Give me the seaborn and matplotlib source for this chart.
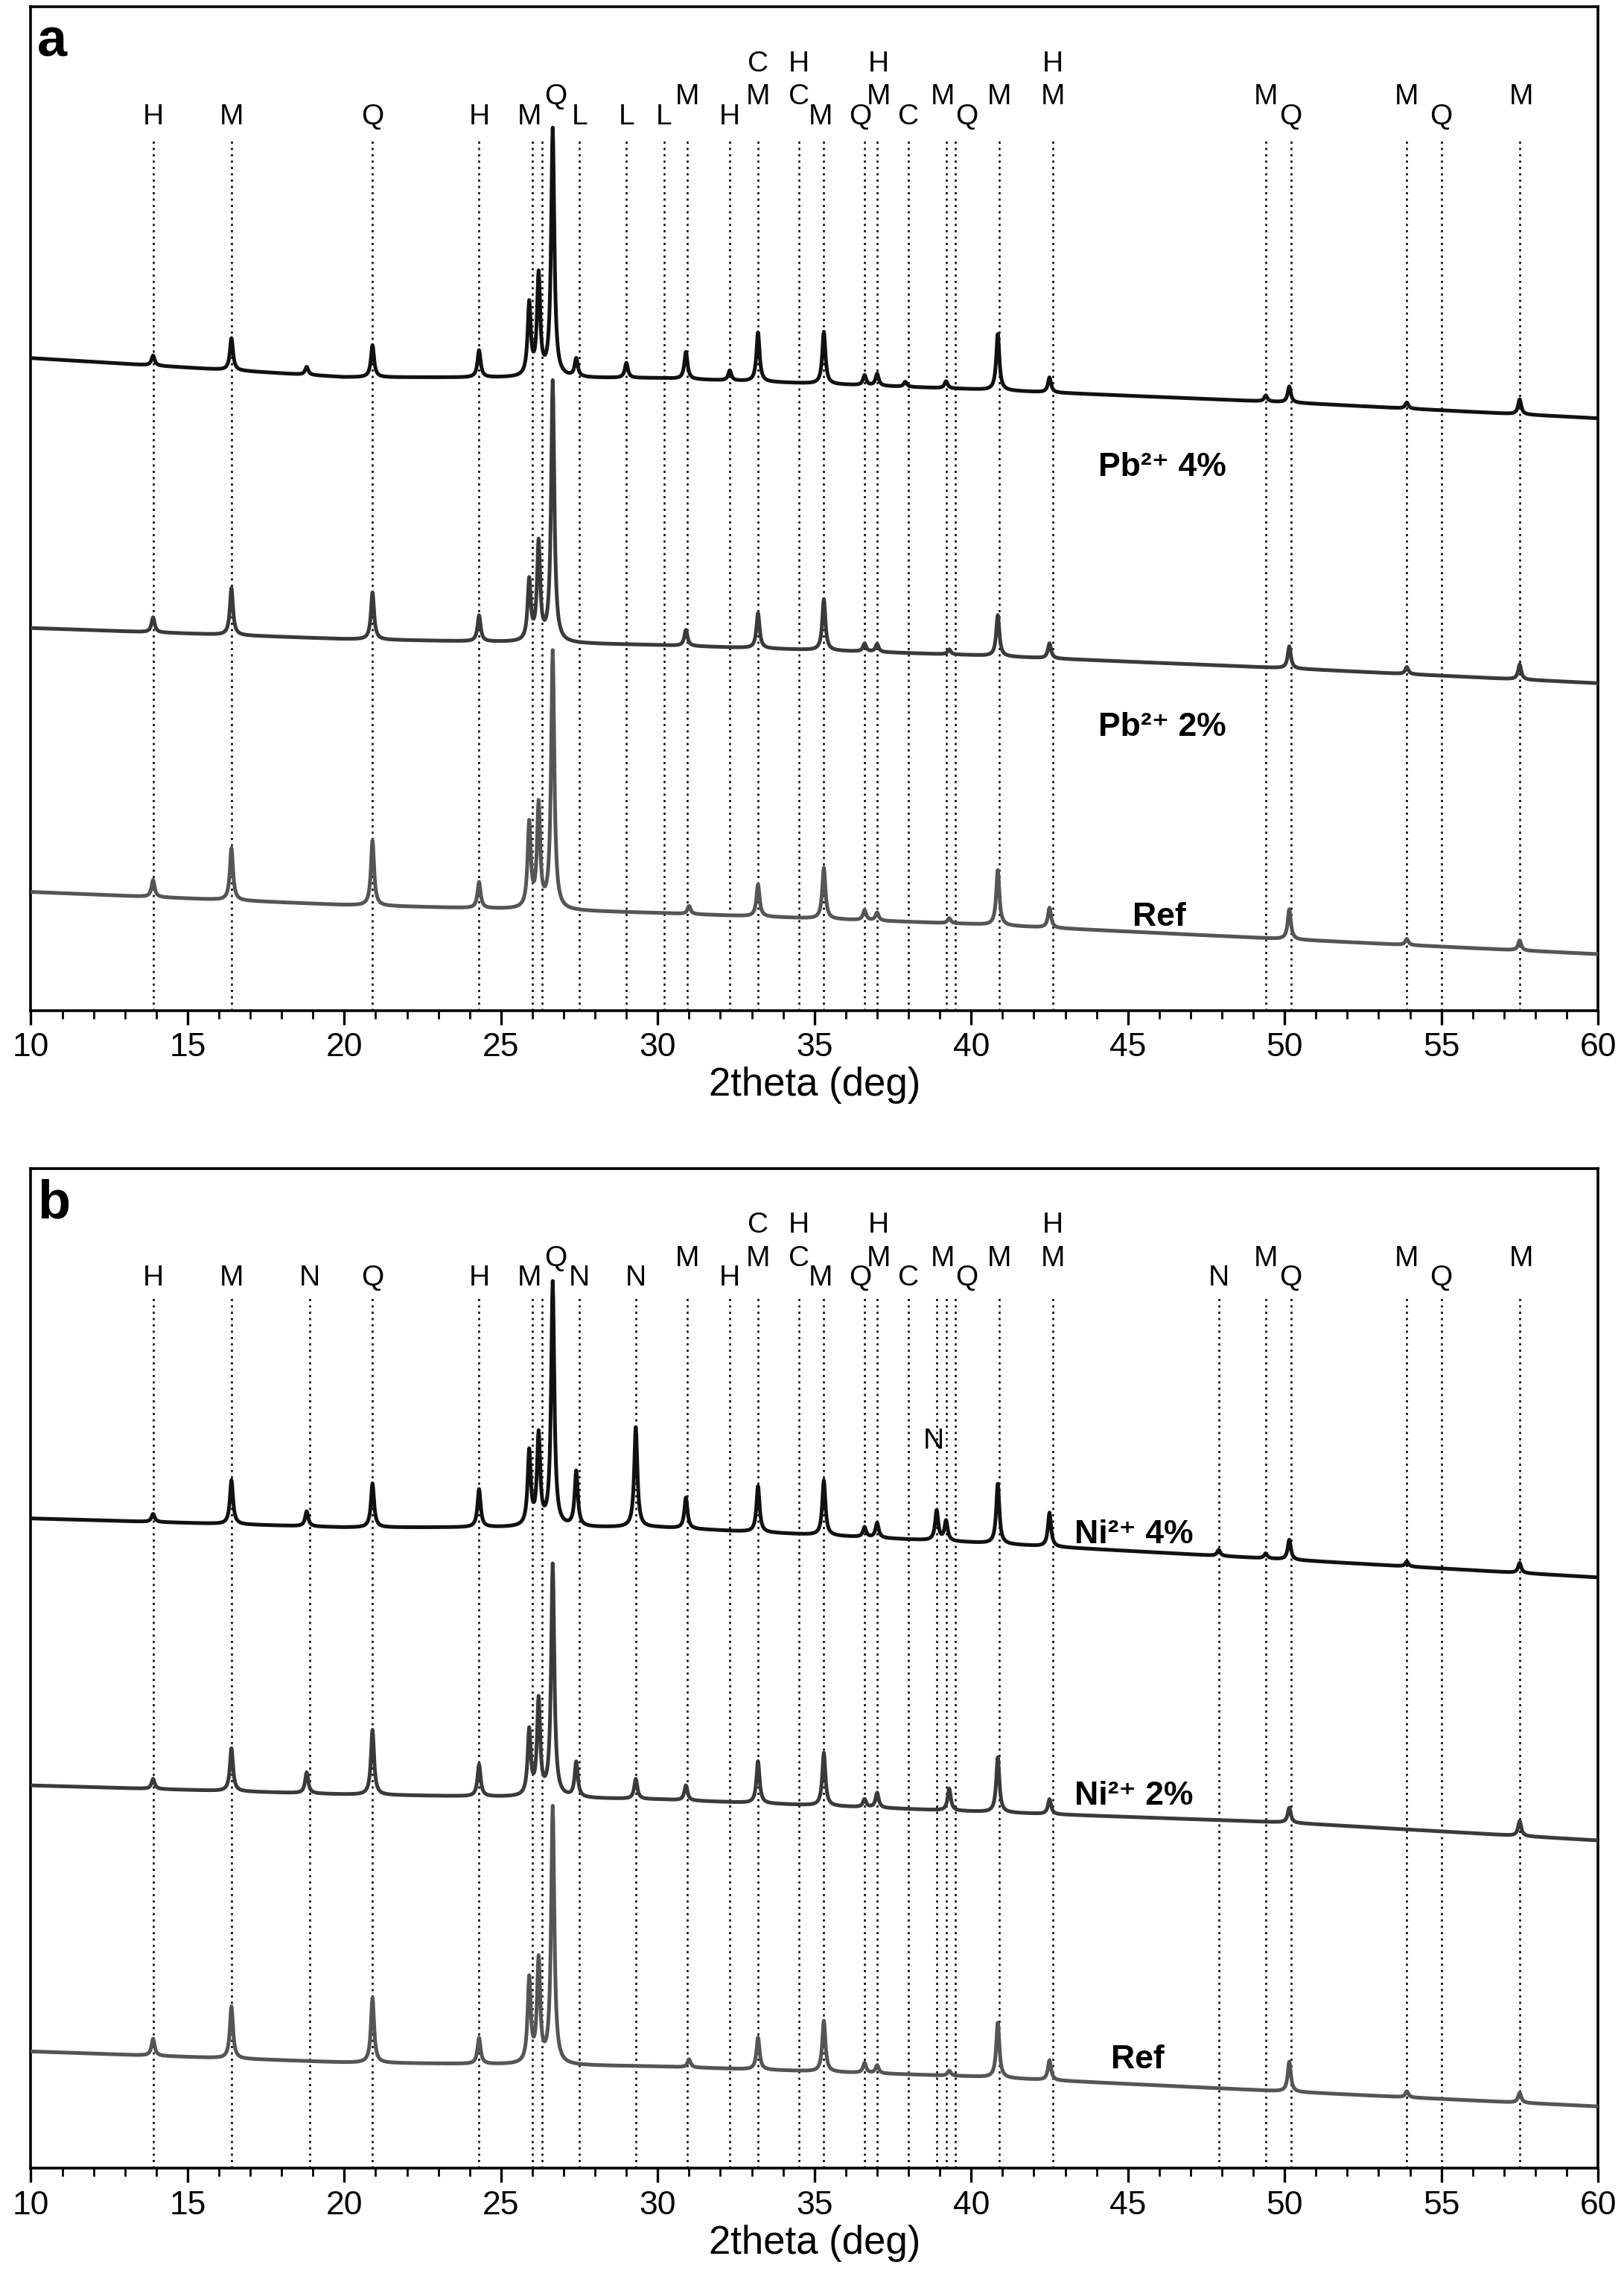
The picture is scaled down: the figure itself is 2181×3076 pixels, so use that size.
import numpy as np
import pandas as pd
import matplotlib
matplotlib.use("Agg")
import matplotlib.pyplot as plt
from matplotlib.ticker import MultipleLocator
import seaborn as sns

sns.set_style("white")
plt.rcParams['font.family'] = ['Liberation Sans', 'DejaVu Sans']
plt.rcParams['text.color'] = 'black'
plt.rcParams['xtick.color'] = 'black'
plt.rcParams['axes.labelcolor'] = 'black'

# ---------------- data (y in arbitrary units 0..100) -------------
base_x = [10, 20, 30, 40, 50, 60]
# panel a
pb4_base = [65.0, 63.1, 63.0, 61.9, 60.6, 59.0]
pb4_pos = [13.9, 16.4, 18.8, 20.9, 24.3, 25.9, 26.2, 26.65, 27.4, 29.0, 30.9, 32.3, 33.2, 35.3, 36.6, 37.0, 37.9, 39.2, 40.85, 42.5, 49.4, 50.15, 53.9, 57.5]
pb4_h = [1.0, 3.2, 0.8, 3.2, 2.7, 7.2, 10.0, 24.7, 1.8, 1.5, 2.7, 1.0, 4.9, 5.2, 1.0, 1.2, 0.5, 0.7, 5.6, 1.5, 0.6, 1.6, 0.6, 1.5]
pb2_base = [38.1, 37.0, 36.4, 35.4, 34.1, 32.6]
pb2_pos = [13.9, 16.4, 20.9, 24.3, 25.9, 26.2, 26.65, 30.9, 33.2, 35.3, 36.6, 37.0, 39.3, 40.85, 42.5, 50.15, 53.9, 57.5]
pb2_h = [1.5, 4.7, 4.7, 2.6, 6.0, 9.7, 26.0, 1.6, 3.5, 5.1, 0.8, 0.8, 0.5, 4.1, 1.5, 2.2, 0.7, 1.5]
refa_base = [11.8, 10.5, 9.7, 8.6, 7.1, 5.6]
ref_pos = [13.9, 16.4, 20.9, 24.3, 25.9, 26.2, 26.65, 31.0, 33.2, 35.3, 36.6, 37.0, 39.3, 40.85, 42.5, 50.15, 53.9, 57.5]
ref_h = [1.7, 5.2, 6.5, 2.6, 8.4, 10.2, 25.7, 0.8, 3.2, 5.1, 1.0, 0.8, 0.5, 5.5, 2.0, 3.0, 0.6, 1.0]
# panel b
ni4_base = [65.0, 64.1, 64.1, 62.6, 60.9, 59.1]
ni4_pos = [13.9, 16.4, 18.8, 20.9, 24.3, 25.9, 26.2, 26.65, 27.4, 29.3, 30.9, 33.2, 35.3, 36.6, 37.0, 38.9, 39.2, 40.85, 42.5, 47.9, 49.4, 50.15, 53.9, 57.5]
ni4_h = [0.8, 4.4, 1.5, 4.4, 3.8, 7.4, 9.0, 24.4, 5.5, 10.0, 3.1, 4.6, 5.5, 1.0, 1.5, 3.0, 2.0, 6.0, 3.4, 0.6, 0.5, 2.0, 0.5, 1.0]
ni2_base = [38.3, 37.4, 36.9, 35.7, 34.6, 32.8]
ni2_pos = [13.9, 16.4, 18.8, 20.9, 24.3, 25.9, 26.2, 26.65, 27.4, 29.3, 30.9, 33.2, 35.3, 36.6, 37.0, 39.3, 40.85, 42.5, 50.15, 57.5]
ni2_h = [1.0, 4.3, 2.1, 6.5, 3.2, 6.5, 9.5, 23.2, 3.5, 2.0, 1.5, 4.2, 5.3, 0.8, 1.5, 2.2, 5.5, 1.5, 1.5, 1.5]
refb_base = [11.7, 10.6, 10.2, 9.2, 7.7, 6.2]

# phase reference lines
lines_a = [13.9, 16.4, 20.9, 24.3, 26.0, 26.3, 27.5, 29.0, 30.2, 30.95, 32.3, 33.2, 34.5, 35.3, 36.6, 37.0, 38.0, 39.2, 39.5, 40.9, 42.6, 49.4, 50.2, 53.9, 55.0, 57.5]
lines_b = [13.9, 16.4, 18.9, 20.9, 24.3, 26.0, 26.3, 27.5, 29.3, 30.95, 32.3, 33.2, 34.5, 35.3, 36.6, 37.0, 38.0, 38.9, 39.2, 39.5, 40.9, 42.6, 47.9, 49.4, 50.2, 53.9, 55.0, 57.5]
row1_a = [(13.9, "H"), (16.4, "M"), (20.9, "Q"), (24.3, "H"), (25.9, "M"), (27.5, "L"), (29.0, "L"), (30.2, "L"), (32.3, "H"), (35.2, "M"), (36.45, "Q"), (38.0, "C"), (39.85, "Q"), (50.2, "Q"), (55.0, "Q")]
row1_b = [(13.9, "H"), (16.4, "M"), (18.9, "N"), (20.9, "Q"), (24.3, "H"), (25.9, "M"), (27.5, "N"), (29.3, "N"), (32.3, "H"), (35.2, "M"), (36.45, "Q"), (38.0, "C"), (39.85, "Q"), (47.9, "N"), (50.2, "Q"), (55.0, "Q")]
row2 = [(26.75, "Q"), (30.95, "M"), (33.2, "M"), (34.5, "C"), (37.05, "M"), (39.1, "M"), (40.9, "M"), (42.6, "M"), (49.4, "M"), (53.9, "M"), (57.55, "M")]
row3 = [(33.2, "C"), (34.5, "H"), (37.05, "H"), (42.6, "H")]

x = np.linspace(10, 60, 3001)

def pattern(base, pos, h, w=0.06):
    y = np.interp(x, base_x, base)
    for p, a in zip(pos, h):
        y = y + a / (1 + ((x - p) / w) ** 2)
    return y

fig = plt.figure(figsize=(10.905, 15.38), dpi=200)
axa = fig.add_axes([0.019, 0.559, 0.965, 0.438])
axb = fig.add_axes([0.019, 0.0535, 0.965, 0.4365])

def panel(ax, series, lines, row1, letter, samples, extra=None):
    for xl in lines:
        ax.plot([xl, xl], [0, 87], ls=(0, (1.2, 2.2)), color="black", lw=0.9, zorder=1)
    for base, pos, h, col in series:
        df = pd.DataFrame({"x": x, "y": pattern(base, pos, h)})
        sns.lineplot(data=df, x="x", y="y", ax=ax, color=col, lw=1.8, zorder=3)
    fs = 14
    for xx, t in row1:
        ax.text(xx, 89.0, t, ha="center", va="center", fontsize=fs)
    for xx, t in row2:
        ax.text(xx, 91.0, t, ha="center", va="center", fontsize=fs)
    for xx, t in row3:
        ax.text(xx, 94.3, t, ha="center", va="center", fontsize=fs)
    if extra:
        for xx, yy, t in extra:
            ax.text(xx, yy, t, ha="center", va="center", fontsize=fs)
    for xx, yy, t in samples:
        ax.text(xx, yy, t, ha="center", va="center", fontsize=16, fontweight="bold")
    ax.text(0.004, 0.99, letter, transform=ax.transAxes, ha="left", va="top",
            fontsize=26, fontweight="bold")
    ax.set_xlim(10, 60)
    ax.set_ylim(0, 100)
    ax.set_yticks([])
    ax.set_ylabel("")
    ax.set_xlabel("2theta (deg)", fontsize=19, labelpad=2)
    ax.xaxis.set_major_locator(MultipleLocator(5))
    ax.xaxis.set_minor_locator(MultipleLocator(1))
    ax.tick_params(axis="x", which="major", direction="out", length=7, width=1.2,
                   labelsize=16, bottom=True)
    ax.tick_params(axis="x", which="minor", direction="out", length=4, width=1, bottom=True)
    for s in ax.spines.values():
        s.set_linewidth(1.3)
        s.set_color("black")

panel(axa, [(pb4_base, pb4_pos, pb4_h, "#111111"),
            (pb2_base, pb2_pos, pb2_h, "#3a3a3a"),
            (refa_base, ref_pos, ref_h, "#555555")],
      lines_a, row1_a, "a",
      [(46.1, 54.1, "Pb²⁺ 4%"), (46.1, 28.2, "Pb²⁺ 2%"), (46.0, 9.3, "Ref")])
panel(axb, [(ni4_base, ni4_pos, ni4_h, "#111111"),
            (ni2_base, ni2_pos, ni2_h, "#3a3a3a"),
            (refb_base, ref_pos, ref_h, "#555555")],
      lines_b, row1_b, "b",
      [(45.2, 63.4, "Ni²⁺ 4%"), (45.2, 37.2, "Ni²⁺ 2%"), (45.3, 10.9, "Ref")],
      extra=[(38.8, 72.7, "N")])

fig.savefig("out.png", dpi=200)
